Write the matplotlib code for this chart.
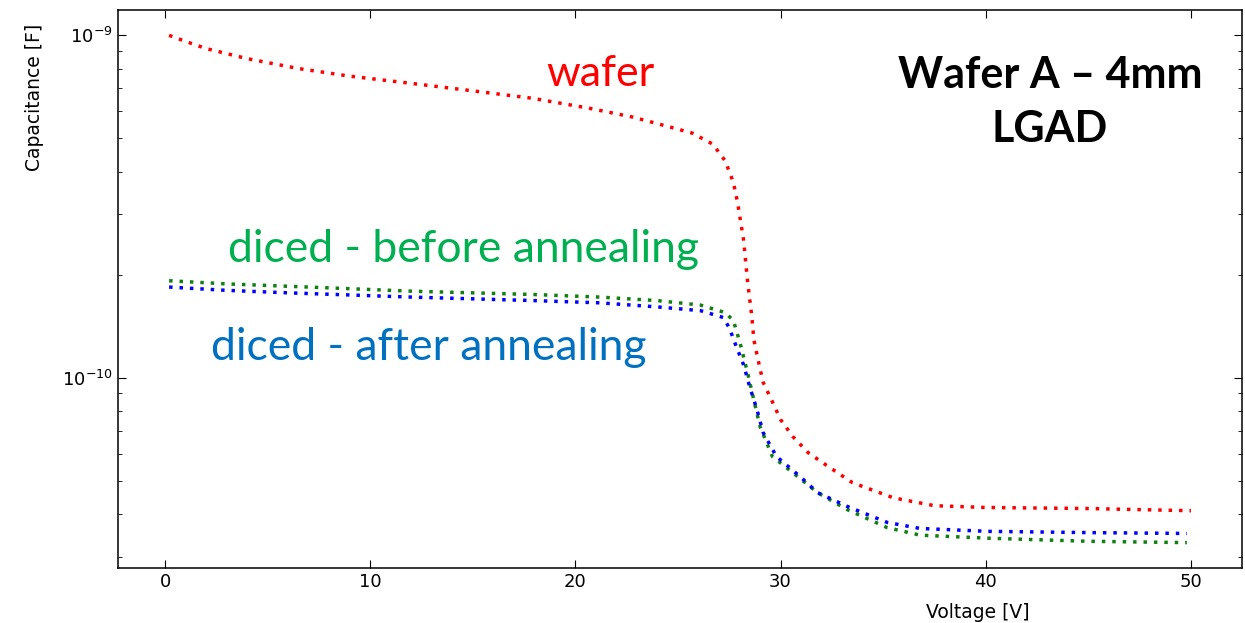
import numpy as np
import matplotlib
matplotlib.use("Agg")
import matplotlib.pyplot as plt

# C-V data (capacitance in units of 1e-10 F)
wafer_v = [0.2, 1.0, 2.0, 4.0, 6.5, 9.0, 12.0, 14.7, 17.9, 20.7, 22.8, 24.8, 25.7, 26.7,
           27.3, 27.7, 27.9, 28.2, 28.4, 28.6, 28.7, 28.9, 29.15, 29.6, 30.0, 30.6, 31.35,
           32.2, 33.5, 35.5, 37.5, 40.0, 45.0, 50.0]
wafer_c = [10.0, 9.6, 9.15, 8.55, 8.0, 7.6, 7.24, 6.92, 6.55, 6.12, 5.77, 5.36, 5.18, 4.81,
           4.30, 3.72, 3.26, 2.52, 1.89, 1.51, 1.29, 1.13, 0.97, 0.851, 0.755, 0.673, 0.604,
           0.557, 0.494, 0.446, 0.423, 0.418, 0.415, 0.409]

before_v = [0.2, 3, 6, 9, 12, 15, 18, 21.2, 24, 26.1, 27.3, 27.7, 28.03, 28.4, 28.66, 29.0,
            29.6, 30.6, 31.8, 33.25, 35.2, 36.8, 40.1, 45, 49.8]
before_c = [1.92, 1.88, 1.85, 1.82, 1.79, 1.77, 1.75, 1.72, 1.68, 1.63, 1.55, 1.47, 1.26,
            1.03, 0.881, 0.72, 0.589, 0.528, 0.462, 0.412, 0.365, 0.347, 0.340, 0.333, 0.330]

after_v = [0.2, 3, 6, 9, 12, 15, 18, 21.2, 24, 26.1, 27.2, 27.5, 27.85, 28.2, 28.5, 28.85,
           29.15, 29.8, 30.96, 31.8, 33.25, 35.2, 36.8, 40.1, 45, 49.8]
after_c = [1.84, 1.80, 1.77, 1.745, 1.72, 1.70, 1.68, 1.655, 1.61, 1.57, 1.50, 1.40, 1.23,
           1.09, 0.94, 0.807, 0.692, 0.589, 0.514, 0.462, 0.421, 0.378, 0.363, 0.356, 0.353,
           0.351]

fig = plt.figure(figsize=(12.45, 6.23), dpi=100)
ax = fig.add_axes([0.0948, 0.0883, 0.9028, 0.8957])

dots = (0, (1, 2))
ax.plot(wafer_v, np.array(wafer_c) * 1e-10, color="#ff0000", lw=2.5, ls=dots)
ax.plot(before_v, np.array(before_c) * 1e-10, color="#108010", lw=2.5, ls=dots)
ax.plot(after_v, np.array(after_c) * 1e-10, color="#0000ff", lw=2.5, ls=dots)
ax.set_yscale("log")

ax.tick_params(which="both", direction="in", top=True, right=True, labelsize=13)
ax.tick_params(which="major", length=5.5)
ax.tick_params(which="minor", length=3)
for s in ax.spines.values():
    s.set_linewidth(1.1)

ax.set_xlabel("Voltage [V]", fontsize=13.5)
ax.xaxis.set_label_coords(0.765, -0.063)
ax.set_ylabel("Capacitance [F]", fontsize=13.5)
ax.yaxis.set_label_coords(-0.066, 0.844)

# annotations placed in figure pixels (origin bottom-left)
H = 623
fnt = "Lato"
ax.text(600, H - 74, "wafer", transform=None, fontsize=31, family=fnt, color="#ff0000",
        ha="center", va="center")
ax.text(1050, H - 102, "Wafer A \u2013 4mm\nLGAD", transform=None, fontsize=31, family=fnt,
        weight="bold", ha="center", va="center", linespacing=1.4)
ax.text(228, H - 249, "diced - before annealing", transform=None, fontsize=32, family=fnt,
        color="#00b050", ha="left", va="center")
ax.text(211, H - 348, "diced - after annealing", transform=None, fontsize=32, family=fnt,
        color="#0070c0", ha="left", va="center")

fig.savefig("out.png", dpi=100)
